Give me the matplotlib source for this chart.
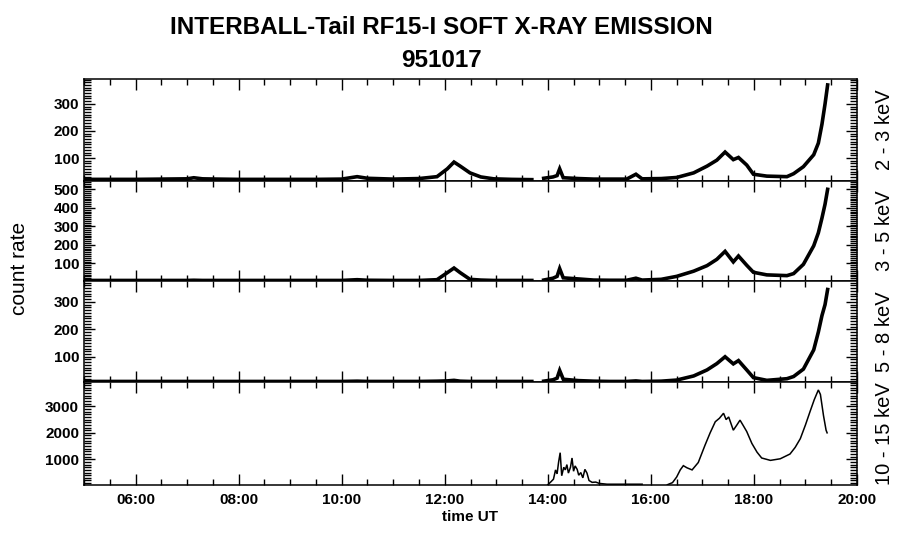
import numpy as np
import matplotlib.pyplot as plt
from matplotlib.ticker import MultipleLocator, FuncFormatter

plt.rcParams['font.family'] = ['Liberation Sans', 'DejaVu Sans']

nan = np.nan

# time grid (hours UT) shared by the three lower-energy channels
hours = [5.0, 5.5, 6.0, 6.5, 7.0, 7.13, 7.3, 7.6, 8.0, 8.5, 9.0, 9.5, 10.0, 10.3, 10.5,
         11.0, 11.5, 11.85, 12.05, 12.18, 12.3, 12.49, 12.7, 12.95, 13.3, 13.69, 13.8,
         13.92, 14.1, 14.18, 14.23, 14.3, 14.6, 14.89, 15.2, 15.53, 15.71, 15.83, 16.2,
         16.5, 16.83, 17.09, 17.28, 17.44, 17.6, 17.7, 17.86, 17.99, 18.25, 18.64, 18.77,
         18.96, 19.16, 19.25, 19.32, 19.38, 19.43]

rate_2_3 = [21, 21, 21, 22, 23, 27, 23, 22, 21, 21, 21, 21, 22, 31, 25,
            22, 24, 31, 60, 85, 70, 45, 30, 23, 21, 20, nan,
            25, 30, 35, 60, 27, 24, 22, 22, 22, 40, 23, 24,
            28, 45, 70, 92, 122, 94, 102, 74, 40, 33, 31, 42,
            68, 112, 155, 225, 300, 370]

rate_3_5 = [8, 8, 8, 8, 8, 9, 8, 8, 8, 8, 8, 8, 8, 12, 9,
            8, 8, 12, 50, 75, 50, 14, 10, 8, 8, 8, nan,
            10, 20, 30, 72, 22, 16, 10, 9, 9, 20, 10, 14,
            30, 58, 88, 122, 165, 108, 140, 90, 52, 38, 34, 45,
            95, 195, 265, 345, 420, 500]

rate_5_8 = [10, 10, 10, 10, 10, 10, 10, 10, 10, 10, 10, 10, 10, 11, 10,
            10, 10, 11, 12, 14, 11, 10, 10, 10, 10, 10, nan,
            11, 16, 22, 50, 18, 13, 11, 10, 10, 12, 10, 11,
            15, 30, 52, 75, 100, 74, 86, 52, 24, 14, 20, 28,
            55, 125, 190, 250, 290, 345]

# 10 - 15 keV channel has its own sampling
hours_10_15 = [14.0, 14.06, 14.11, 14.15, 14.18, 14.21, 14.24, 14.27, 14.31, 14.34, 14.37,
               14.40, 14.44, 14.47, 14.50, 14.53, 14.57, 14.60, 14.64, 14.68, 14.72, 14.76,
               14.80, 14.86, 14.93, 15.0, 15.15, 15.4, 15.83, 16.0, 16.32, 16.42, 16.5,
               16.57, 16.63, 16.7, 16.8, 16.92, 17.05, 17.15, 17.25, 17.33, 17.41, 17.46,
               17.51, 17.6, 17.67, 17.73, 17.8, 17.86, 17.96, 18.06, 18.15, 18.32, 18.51,
               18.7, 18.8, 18.9, 19.0, 19.09, 19.17, 19.25, 19.29, 19.35, 19.4, 19.42]

rate_10_15 = [40, 150, 250, 600, 450, 900, 1250, 380, 700, 600, 800,
              480, 700, 1050, 550, 750, 620, 400, 500, 300, 620, 480,
              200, 130, 140, 90, 60, 60, 60, nan, 40, 120, 330,
              600, 760, 680, 600, 880, 1530, 2000, 2420, 2550, 2740, 2500,
              2600, 2100, 2300, 2480, 2250, 2050, 1600, 1270, 1050, 960, 1020,
              1200, 1450, 1780, 2300, 2810, 3250, 3620, 3450, 2650, 2100, 2000]

channels = ["2 - 3 keV", "3 - 5 keV", "5 - 8 keV", "10 - 15 keV"]
y_limits = [(15, 392), (5, 545), (8, 376), (30, 3920)]
y_major = [100, 100, 100, 1000]
y_minor = [10, 10, 10, 100]

series = [(hours, rate_2_3), (hours, rate_3_5), (hours, rate_5_8),
          (hours_10_15, rate_10_15)]
widths = [2.6, 2.6, 2.6, 1.1]

fig = plt.figure(figsize=(9, 5.48), dpi=100)

# panel edges in pixels (top, bottom)
edges = [(79, 181), (181, 281), (281, 382), (382, 485)]
left, right = 84 / 900, 857 / 900

axes = []
for i, (top, bot) in enumerate(edges):
    ax = fig.add_axes([left, 1 - bot / 548, right - left, (bot - top) / 548])
    t, v = series[i]
    ax.plot(t, v, color='black', lw=widths[i], solid_joinstyle='miter')
    ax.set_xlim(5, 20)
    ax.set_ylim(*y_limits[i])
    ax.yaxis.set_major_locator(MultipleLocator(y_major[i]))
    ax.yaxis.set_minor_locator(MultipleLocator(y_minor[i]))
    ax.xaxis.set_major_locator(MultipleLocator(2))
    ax.xaxis.set_minor_locator(MultipleLocator(0.5))
    ax.tick_params(which='both', direction='in', top=True, right=True,
                   labelsize=11, width=1, colors='black')
    ax.tick_params(which='major', length=8)
    ax.tick_params(axis='y', which='minor', length=5)
    ax.tick_params(axis='x', which='minor', length=4)
    for lab in ax.get_yticklabels() + ax.get_xticklabels():
        lab.set_fontweight('bold')
    for s in ax.spines.values():
        s.set_linewidth(1.1)
    if i < 3:
        ax.tick_params(labelbottom=False)
    ax.text(1.036, 0.5, channels[i], transform=ax.transAxes, rotation=90,
            ha='center', va='center', fontsize=14.5)
    axes.append(ax)

axes[-1].xaxis.set_major_formatter(FuncFormatter(lambda x, pos: "%02d:00" % int(round(x))))
axes[-1].tick_params(axis='x', pad=6)
for lab in axes[-1].get_xticklabels():
    lab.set_fontweight('bold')
axes[-1].set_xlabel("time UT", fontsize=11, fontweight='bold', labelpad=2)

fig.text(0.022, 0.51, "count rate", rotation=90, ha='center', va='center', fontsize=15)
fig.text(0.49, 0.95, "INTERBALL-Tail RF15-I SOFT X-RAY EMISSION", ha='center',
         va='center', fontsize=17.5, fontweight='bold')
fig.text(0.49, 0.89, "951017", ha='center', va='center', fontsize=17.5, fontweight='bold')

fig.savefig("out.png", dpi=100, facecolor='white')
